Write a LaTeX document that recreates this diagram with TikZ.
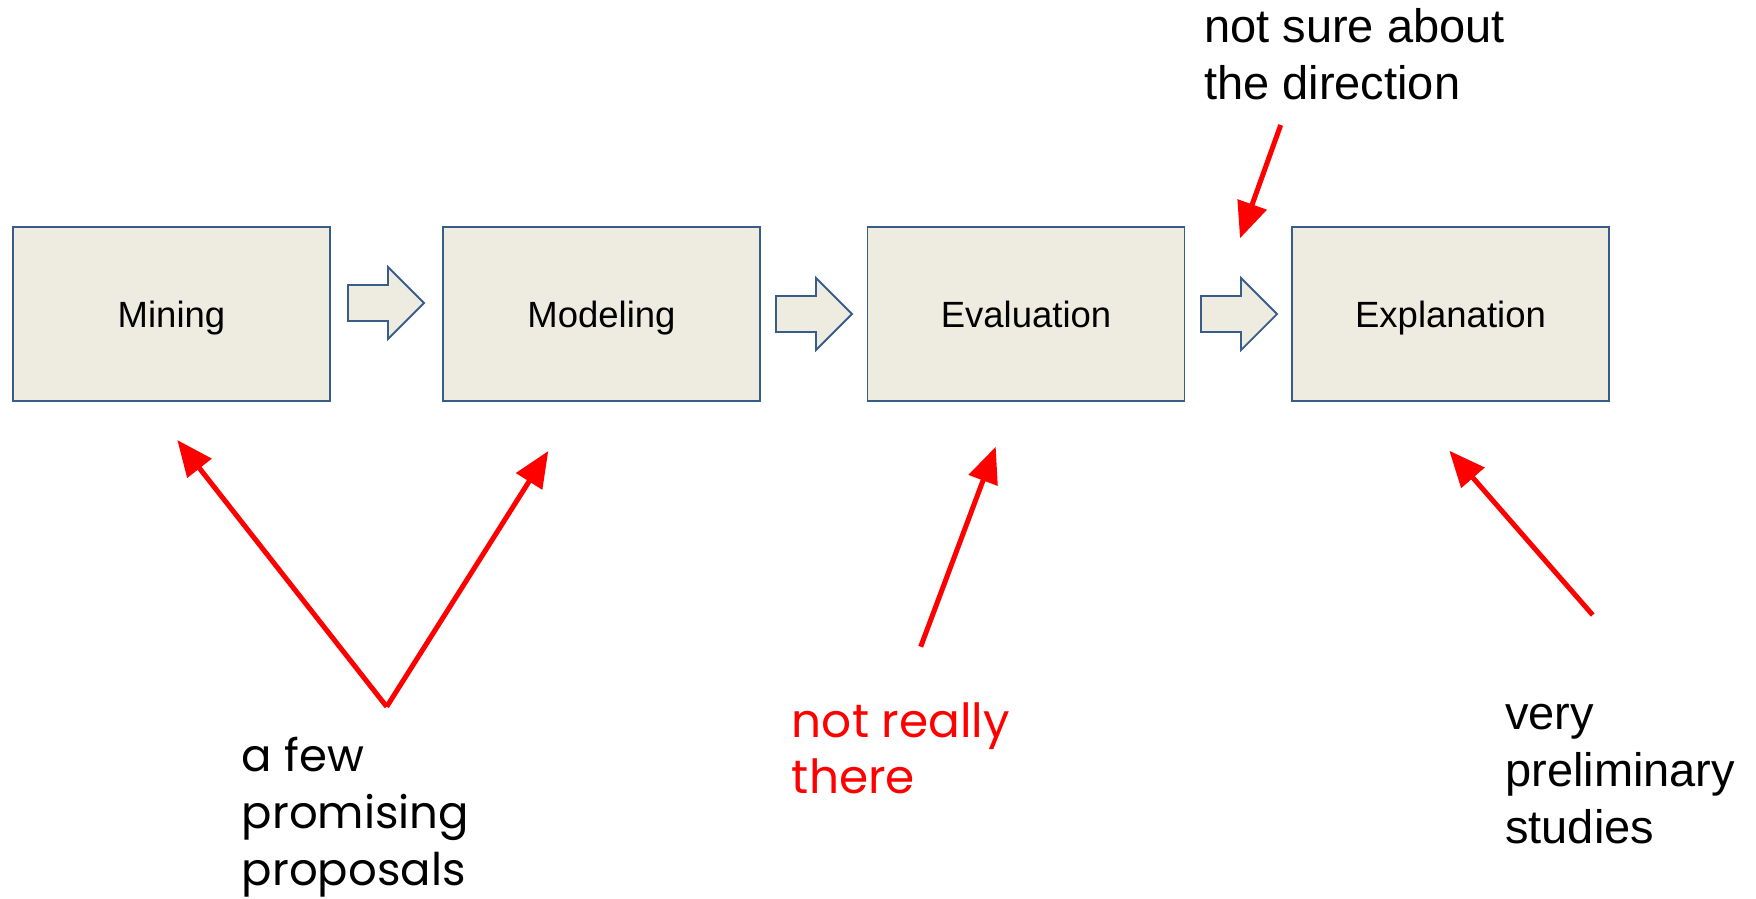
\documentclass[tikz,border=0pt]{standalone}
\usepackage{fontspec}
\setmainfont{Liberation Sans}
\newfontfamily\geofont{Poppins}
\usetikzlibrary{arrows.meta}
\definecolor{boxfill}{HTML}{EEECE1}
\definecolor{boxline}{HTML}{385D8A}

\tikzset{
  stage/.style={draw=boxline, fill=boxfill, line width=1.8pt,
    minimum width=317pt, minimum height=174pt, inner sep=0pt,
    text height=27pt, text depth=0pt, font=\fontsize{36.5}{43}\selectfont},
  % multi-line notes are placed by the baseline of their last line
  note/.style={anchor=base west, align=left, inner sep=0pt,
    font=\fontsize{47}{57}\selectfont},
  geonote/.style={note, font=\geofont\fontsize{45}{57}\selectfont},
  pointer/.style={draw=red, line width=5pt,
    -{Triangle[length=36pt,width=30pt]}},
  flow/.style={draw=boxline, fill=boxfill, line width=1.8pt, line join=miter},
  blockarrow/.pic={
    \draw[flow] (0,-18) -- (40,-18) -- (40,-36) -- (76,0) -- (40,36)
      -- (40,18) -- (0,18) -- cycle;
  }
}

\begin{document}
\begin{tikzpicture}[x=1pt, y=-1pt]
  \useasboundingbox (0,0) rectangle (1756,898);

  % pipeline stages
  \node[stage] (mining)      at (171.5,314)  {Mining};
  \node[stage] (modeling)    at (601.5,314)  {Modeling};
  \node[stage] (evaluation)  at (1026,314)   {Evaluation};
  \node[stage] (explanation) at (1450.5,314) {Explanation};

  % block arrows between the stages
  \pic (flowA) at (348,303)  {blockarrow};
  \pic (flowB) at (776,314)  {blockarrow};
  \pic (flowC) at (1201,314) {blockarrow};

  % annotations
  \node[note] (direction) at (1204,99.3) {not sure about\\the direction};
  \node[geonote] (proposals) at (241.7,885) {a few\\promising\\proposals};
  \node[geonote, text=red, font=\geofont\fontsize{47}{56}\selectfont]
    (notthere) at (791.7,793.3) {not really\\there};
  \node[note] (prelim) at (1505,843.3) {very\\preliminary\\studies};

  % pointer end points
  \coordinate (dirTail) at (1280.7,125);
  \coordinate (dirTip)  at (1240,238.3);
  \coordinate (fork)    at (386.7,706.7);
  \coordinate (minTip)  at (177.3,440);
  \coordinate (modTip)  at (548.3,451);
  \coordinate (evTail)  at (920.7,646.7);
  \coordinate (evTip)   at (995.7,446.7);
  \coordinate (exTail)  at (1592.7,615);
  \coordinate (exTip)   at (1449.3,450.7);

  % red pointers
  \draw[pointer] (dirTail) -- (dirTip);
  \draw[pointer] (fork) -- (minTip);
  \draw[pointer] (fork) -- (modTip);
  \draw[pointer] (evTail) -- (evTip);
  \draw[pointer] (exTail) -- (exTip);
\end{tikzpicture}
\end{document}
